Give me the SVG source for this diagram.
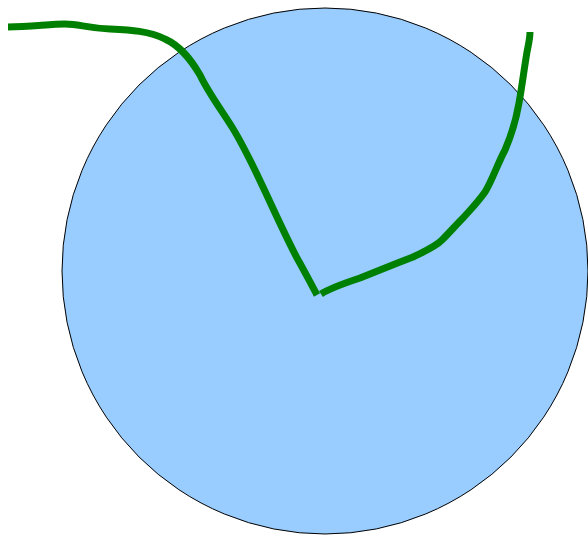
<svg xmlns="http://www.w3.org/2000/svg" width="588" height="536" viewBox="0 0 588 536">
<style>
.line{fill:none;stroke:#008000;stroke-width:7;stroke-linecap:butt;stroke-linejoin:round}
</style>
<rect width="588" height="536" fill="#fff"/>
<g id="circle">
<circle cx="325" cy="271" r="263" fill="#99ccff" stroke="#000" stroke-width="1"/>
</g>
<g id="connectors">
<path class="line" d="M8,27 C30,27 50,24 65,24 C80,24 85,28 110,29 C130,30 150,31 165,39 C180,46 190,58 200,75 C208,92 220,108 232,127 C242,143 255,170 263,187 C272,206 285,235 297,258 C305,272 311,284 317,295"/>
<path class="line" d="M321,294 C330,288 345,283 360,278 C375,272 395,264 413,257 C425,251 435,247 442,240 C450,232 455,226 463,218 C472,208 478,202 485,192 C492,181 497,165 505,150 C512,134 516,120 519,103 C522,86 524,70 527,52 C529,42 530,38 530,32"/>
</g>
</svg>
